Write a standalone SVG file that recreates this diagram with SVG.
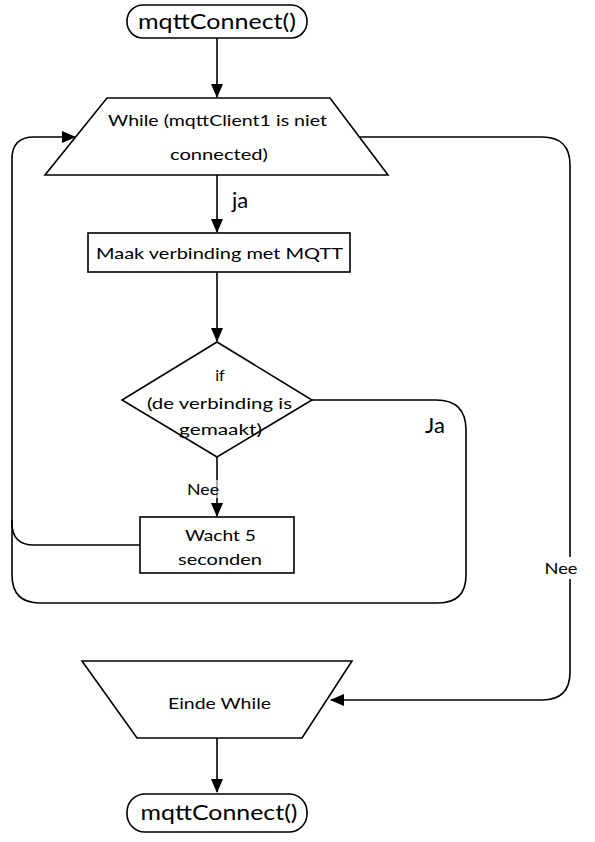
<svg xmlns="http://www.w3.org/2000/svg" width="595" height="842" viewBox="0 0 595 842">
<style>
.s{fill:#fff;stroke:#000;stroke-width:1.6}
.c{fill:none;stroke:#000;stroke-width:1.6}
text{font-family:Lato,"Liberation Sans",sans-serif;fill:#000;text-anchor:middle}
.t{font-size:21px}
.n{font-size:16px}
.l{font-size:22px}
</style>
<defs>
<marker id="a" markerWidth="14" markerHeight="12" refX="13" refY="6" orient="auto" markerUnits="userSpaceOnUse">
<path d="M0,0 L14,6 L0,12 Z" fill="#000"/>
</marker>
</defs>
<g id="connectors">
<path class="c" d="M217,38 V97" marker-end="url(#a)"/>
<path class="c" d="M217,175 V232" marker-end="url(#a)"/>
<path class="c" d="M217,272 V341" marker-end="url(#a)"/>
<path class="c" d="M217,457 V480" />
<path d="M217,480 V498" stroke="#999" stroke-width="1.6"/>
<path class="c" d="M217,498 V516" marker-end="url(#a)"/>
<path class="c" d="M140,545 H34 Q12,545 12,523 V159 Q12,137 34,137 H75" marker-end="url(#a)"/>
<path class="c" d="M312,400 H436 Q466,400 466,430 V575 Q466,603 438,603 H40 Q12,603 12,575 V520"/>
<path class="c" d="M359,137 H542 Q570,137 570,165 V672 Q570,700 542,700 H331" marker-end="url(#a)"/>
<path class="c" d="M217,738 V792" marker-end="url(#a)"/>
<rect x="543" y="557" width="36" height="22" fill="#fff"/>
<text class="n" x="561" y="574" textLength="33" lengthAdjust="spacingAndGlyphs">Nee</text>
<text class="l" x="240" y="208">ja</text>
<text class="n" x="203" y="495" textLength="32" lengthAdjust="spacingAndGlyphs">Nee</text>
<text class="l" x="435" y="433">Ja</text>
</g>
<g id="start">
<rect class="s" x="127" y="5" width="180" height="33" rx="16"/>
<text class="t" x="217" y="29" textLength="158" lengthAdjust="spacingAndGlyphs">mqttConnect()</text>
</g>
<g id="while">
<path class="s" d="M107,98 H330 L388,175 H45 Z"/>
<text class="n" x="217.5" y="126" textLength="219" lengthAdjust="spacingAndGlyphs">While (mqttClient1 is niet</text>
<text class="n" x="219" y="160" textLength="98" lengthAdjust="spacingAndGlyphs">connected)</text>
</g>
<g id="maak">
<rect class="s" x="88" y="233" width="262" height="39"/>
<text class="n" x="219.5" y="259" textLength="247" lengthAdjust="spacingAndGlyphs">Maak verbinding met MQTT</text>
</g>
<g id="if">
<path class="s" d="M217,342 L312,400 L217,457 L122,400 Z"/>
<text class="n" x="220" y="381">if</text>
<text class="n" x="219.5" y="409" textLength="145" lengthAdjust="spacingAndGlyphs">(de verbinding is</text>
<text class="n" x="220.5" y="435" textLength="83" lengthAdjust="spacingAndGlyphs">gemaakt)</text>
</g>
<g id="wacht">
<rect class="s" x="140" y="517" width="154" height="56"/>
<text class="n" x="220.5" y="541" textLength="71" lengthAdjust="spacingAndGlyphs">Wacht 5</text>
<text class="n" x="220" y="565" textLength="84" lengthAdjust="spacingAndGlyphs">seconden</text>
</g>
<g id="einde">
<path class="s" d="M82,661 H352 L302,738 H137 Z"/>
<text class="n" x="219.5" y="709" textLength="103" lengthAdjust="spacingAndGlyphs">Einde While</text>
</g>
<g id="end">
<rect class="s" x="127" y="794" width="180" height="38" rx="18"/>
<text class="t" x="219" y="820" textLength="157" lengthAdjust="spacingAndGlyphs">mqttConnect()</text>
</g>
</svg>
